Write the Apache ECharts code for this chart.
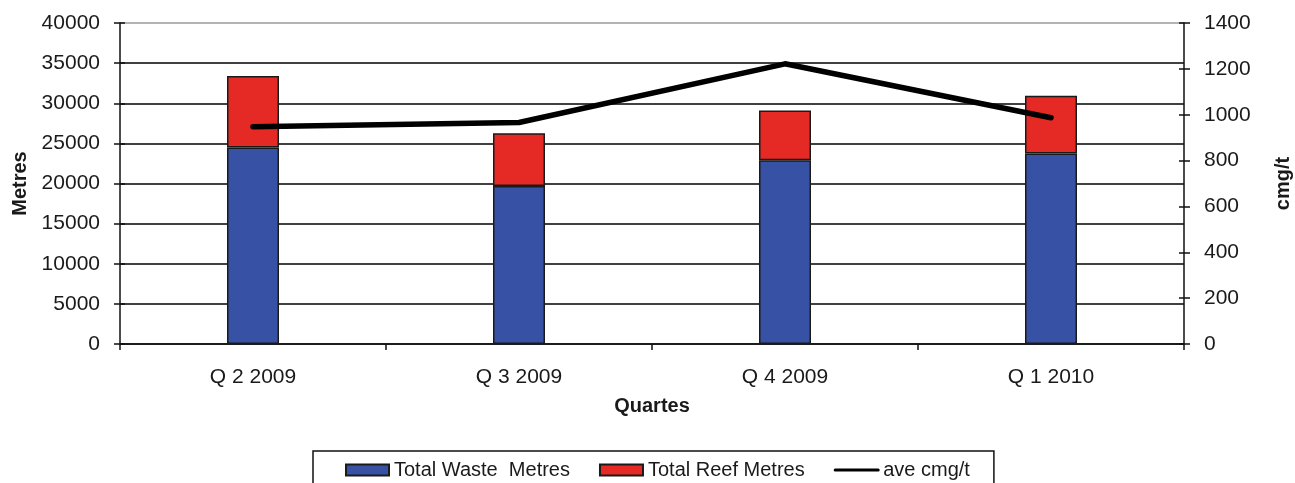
<!DOCTYPE html>
<html>
<head>
<meta charset="utf-8">
<script src="https://cdn.jsdelivr.net/npm/echarts@6/dist/echarts.min.js"></script>
<style>
  html, body { margin: 0; padding: 0; background: #fff; }
  #chart { width: 1295px; height: 483px; }
</style>
</head>
<body>
<div id="chart"></div>
<script>
// Quarterly development metres and average grade
const quarters = ['Q 2 2009', 'Q 3 2009', 'Q 4 2009', 'Q 1 2010'];
const wasteMetres = [24500, 19700, 22900, 23750];
const reefMetres = [8900, 6550, 6200, 7200];   // stacked on top of waste metres
const aveCmgT = [948, 966, 1222, 987];

const FONT = '"Liberation Sans", Arial, sans-serif';
const TEXT = '#1a1a1a';

const chart = echarts.init(document.getElementById('chart'), null, { renderer: 'canvas' });

// horizontal grid: black lines, the top one lighter
const gridColors = ['#000', '#000', '#000', '#000', '#000', '#000', '#000', '#000', '#9a9a9a'];
const plain = v => String(v);

chart.setOption({
  backgroundColor: '#fff',
  animation: false,
  textStyle: { fontFamily: FONT, color: TEXT },
  grid: { left: 120, right: 111, top: 23, bottom: 139, outerBoundsMode: 'none', containLabel: false },
  legend: {
    left: 313,
    top: 451,
    padding: [9, 24, 20, 32],
    borderColor: '#111',
    borderWidth: 1.5,
    itemWidth: 43,
    itemHeight: 11,
    itemGap: 29,
    textStyle: { fontFamily: FONT, fontSize: 20, color: TEXT },
    data: [
      { name: 'Total Waste  Metres', icon: 'rect' },
      { name: 'Total Reef Metres', icon: 'rect' },
      {
        name: 'ave cmg/t',
        lineStyle: { width: 3, color: '#000' },
        itemStyle: { color: 'rgba(0,0,0,0)', borderColor: 'rgba(0,0,0,0)', borderWidth: 0 }
      }
    ]
  },
  xAxis: {
    type: 'category',
    data: quarters,
    boundaryGap: true,
    name: 'Quartes',
    nameLocation: 'middle',
    nameGap: 52,
    nameTextStyle: { fontFamily: FONT, fontSize: 20, fontWeight: 'bold', color: TEXT },
    axisLine: { lineStyle: { color: '#111', width: 1.5 } },
    axisTick: { show: true, alignWithLabel: false, length: 6, lineStyle: { color: '#111', width: 1.5 } },
    axisLabel: { fontFamily: FONT, fontSize: 21, color: TEXT, margin: 23 }
  },
  yAxis: [
    {
      type: 'value',
      position: 'left',
      min: 0, max: 40000, interval: 5000,
      name: 'Metres',
      nameLocation: 'middle',
      nameRotate: 90,
      nameGap: 90,
      nameTextStyle: { fontFamily: FONT, fontSize: 20, fontWeight: 'bold', color: TEXT },
      axisLine: { show: true, lineStyle: { color: '#111', width: 1.5 } },
      axisTick: { show: true, length: 6, lineStyle: { color: '#111', width: 1.5 } },
      axisLabel: { fontFamily: FONT, fontSize: 21, color: TEXT, margin: 20, formatter: plain },
      splitLine: { show: true, lineStyle: { color: gridColors, width: 1.5 } }
    },
    {
      type: 'value',
      position: 'right',
      min: 0, max: 1400, interval: 200,
      name: 'cmg/t',
      nameLocation: 'middle',
      nameRotate: 90,
      nameGap: 89,
      nameTextStyle: { fontFamily: FONT, fontSize: 20, fontWeight: 'bold', color: TEXT },
      axisLine: { show: true, lineStyle: { color: '#111', width: 1.5 } },
      axisTick: { show: true, length: 6, lineStyle: { color: '#111', width: 1.5 } },
      axisLabel: { fontFamily: FONT, fontSize: 21, color: TEXT, margin: 20, formatter: plain },
      splitLine: { show: false }
    },
    {
      // inner half of the left ticks, so they cross the axis line
      type: 'value',
      position: 'left',
      min: 0, max: 40000, interval: 5000,
      axisLine: { show: false },
      axisTick: { show: true, inside: true, length: 5, lineStyle: { color: '#111', width: 1.5 } },
      axisLabel: { show: false },
      splitLine: { show: false }
    },
    {
      // inner half of the right ticks
      type: 'value',
      position: 'right',
      min: 0, max: 1400, interval: 200,
      axisLine: { show: false },
      axisTick: { show: true, inside: true, length: 5, lineStyle: { color: '#111', width: 1.5 } },
      axisLabel: { show: false },
      splitLine: { show: false }
    }
  ],
  series: [
    {
      name: 'Total Waste  Metres',
      type: 'bar',
      stack: 'metres',
      barWidth: 52,
      yAxisIndex: 0,
      data: wasteMetres,
      itemStyle: { color: '#3752a4', borderColor: '#1a1a1a', borderWidth: 1.5 }
    },
    {
      name: 'Total Reef Metres',
      type: 'bar',
      stack: 'metres',
      barWidth: 52,
      yAxisIndex: 0,
      data: reefMetres,
      itemStyle: { color: '#e52a25', borderColor: '#1a1a1a', borderWidth: 1.5 }
    },
    {
      name: 'ave cmg/t',
      type: 'line',
      yAxisIndex: 1,
      data: aveCmgT,
      symbol: 'none',
      showSymbol: false,
      lineStyle: { color: '#000', width: 5.5, cap: 'round', join: 'round' },
      itemStyle: { color: '#000' },
      z: 5
    }
  ]
});
</script>
</body>
</html>
